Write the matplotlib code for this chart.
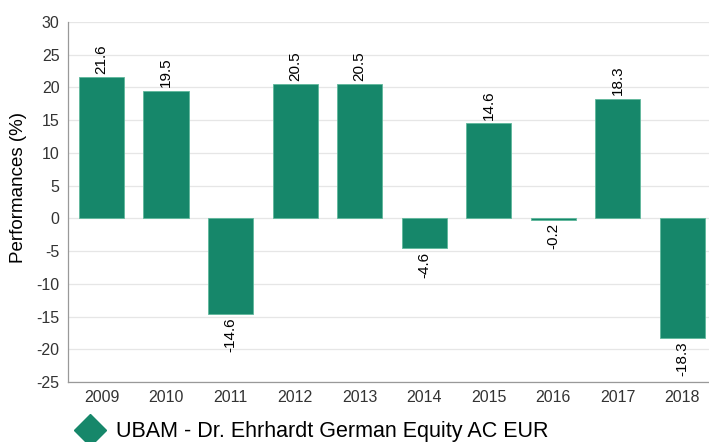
import matplotlib
matplotlib.use("Agg")
import matplotlib.pyplot as plt
from matplotlib.lines import Line2D

years = ["2009", "2010", "2011", "2012", "2013", "2014", "2015", "2016", "2017", "2018"]
perf = [21.6, 19.5, -14.6, 20.5, 20.5, -4.6, 14.6, -0.2, 18.3, -18.3]
series_name = "UBAM - Dr. Ehrhardt German Equity AC EUR"
color = "#16876A"

plt.rcParams["font.family"] = ["Liberation Sans", "DejaVu Sans"]
plt.rcParams["axes.unicode_minus"] = False

fig = plt.figure(figsize=(7.09, 4.42), dpi=100)
W, H = 709, 442
ax = fig.add_axes([68 / W, (H - 382) / H, (710 - 68) / W, (382 - 22) / H])

x = list(range(len(years)))
ax.bar(x, perf, width=0.7, color=color, edgecolor="#5fb89c", linewidth=0.6, zorder=3)

for xi, v in zip(x, perf):
    if v >= 0:
        ax.text(xi, v + 0.5, f"{v}", rotation=90, ha="center", va="bottom",
                fontsize=11, color="black")
    else:
        ax.text(xi, v - 0.5, f"{v}", rotation=90, ha="center", va="top",
                fontsize=11, color="black")

ax.set_ylim(-25, 30)
ax.set_xlim(-0.52, 9.43)
ax.set_yticks(range(-25, 31, 5))
ax.set_xticks(x)
ax.set_xticklabels(years)
ax.tick_params(axis="both", length=0, labelsize=11.5, colors="#333333", pad=6)
ax.grid(axis="y", color="#e6e6e6", linewidth=0.9, zorder=0)
ax.set_axisbelow(True)
for s in ["top", "right"]:
    ax.spines[s].set_visible(False)
for s in ["left", "bottom"]:
    ax.spines[s].set_color("#999999")
    ax.spines[s].set_linewidth(0.9)
ax.set_ylabel("Performances (%)", fontsize=13.5, color="black")
ax.yaxis.set_label_coords(-0.064, 0.54)

handle = Line2D([], [], marker="D", color=color, linestyle="none", markersize=16)
fig.legend([handle], [series_name], loc="lower left", bbox_to_anchor=(60 / W, -0.02),
           frameon=False, fontsize=15.5, handletextpad=0.2, borderaxespad=0)

fig.savefig("out.png", dpi=100)
